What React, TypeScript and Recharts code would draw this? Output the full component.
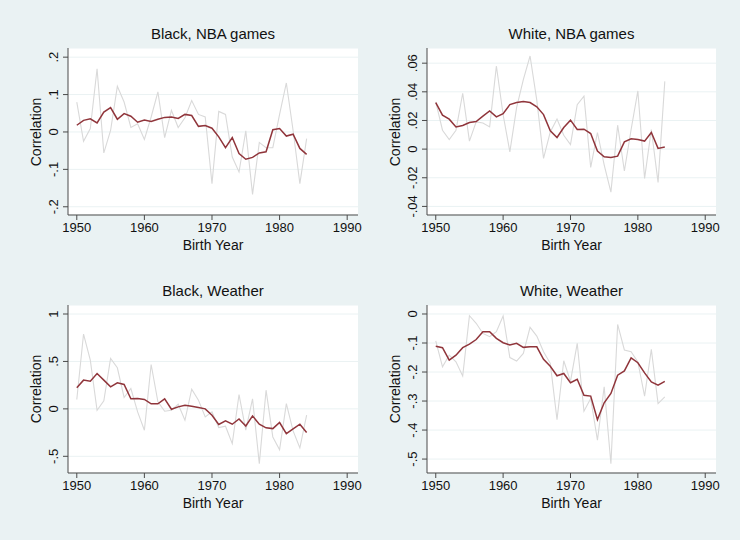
import React from 'react';
import { LineChart, Line, XAxis, YAxis, CartesianGrid } from 'recharts';

const years = [1950, 1951, 1952, 1953, 1954, 1955, 1956, 1957, 1958, 1959, 1960, 1961, 1962, 1963, 1964, 1965, 1966, 1967, 1968, 1969, 1970, 1971, 1972, 1973, 1974, 1975, 1976, 1977, 1978, 1979, 1980, 1981, 1982, 1983, 1984];

const blackNbaRaw = [0.08, -0.025, 0.009, 0.169, -0.056, 0.004, 0.122, 0.08, 0.012, 0.022, -0.02, 0.04, 0.107, -0.015, 0.058, 0.012, 0.038, 0.084, 0.047, 0.04, -0.138, 0.055, 0.047, -0.067, -0.107, 0.003, -0.167, -0.028, -0.042, -0.042, 0.047, 0.131, 0.004, -0.138, -0.018];
const blackNbaSmooth = [0.018, 0.031, 0.035, 0.024, 0.053, 0.065, 0.034, 0.049, 0.042, 0.026, 0.032, 0.028, 0.034, 0.039, 0.04, 0.036, 0.047, 0.044, 0.015, 0.017, 0.01, -0.013, -0.042, -0.015, -0.058, -0.073, -0.068, -0.056, -0.053, 0.006, 0.009, -0.011, -0.006, -0.044, -0.06];

const whiteNbaRaw = [0.033, 0.0132, 0.0067, 0.0132, 0.039, 0.0056, 0.019, 0.0183, 0.0155, 0.058, 0.024, -0.0019, 0.029, 0.0485, 0.065, 0.034, -0.0065, 0.012, 0.021, 0.0097, 0.0032, 0.031, 0.037, -0.0128, 0.0116, -0.011, -0.03, 0.0167, -0.0153, 0.0137, 0.0406, -0.0204, 0.0137, -0.0232, 0.0473];
const whiteNbaSmooth = [0.0325, 0.0237, 0.0209, 0.0155, 0.0165, 0.0186, 0.0193, 0.023, 0.0267, 0.0225, 0.0248, 0.0311, 0.0325, 0.0332, 0.0325, 0.0295, 0.0241, 0.0128, 0.0081, 0.0151, 0.0202, 0.0137, 0.0139, 0.0109, -0.0014, -0.0053, -0.0058, -0.0049, 0.0051, 0.0072, 0.0067, 0.0056, 0.0116, 0.0005, 0.0014];

const blackWeatherRaw = [0.099, 0.789, 0.514, -0.014, 0.085, 0.532, 0.433, 0.12, 0.215, -0.032, -0.225, 0.468, 0.074, -0.025, -0.014, 0.049, -0.12, 0.208, 0.092, -0.085, -0.032, -0.197, -0.183, -0.366, 0.151, -0.225, 0.106, -0.577, 0.197, -0.296, -0.43, 0.056, -0.232, -0.412, -0.067];
const blackWeatherSmooth = [0.222, 0.303, 0.292, 0.373, 0.303, 0.232, 0.275, 0.257, 0.106, 0.109, 0.099, 0.053, 0.053, 0.106, -0.004, 0.021, 0.039, 0.028, 0.014, 0.0, -0.067, -0.165, -0.127, -0.162, -0.106, -0.18, -0.074, -0.162, -0.2, -0.208, -0.144, -0.261, -0.211, -0.162, -0.25];

const whiteWeatherRaw = [-0.093, -0.182, -0.142, -0.165, -0.214, -0.006, -0.032, -0.067, -0.078, -0.061, -0.007, -0.15, -0.162, -0.136, -0.046, -0.076, -0.13, -0.17, -0.364, -0.161, -0.232, -0.101, -0.335, -0.291, -0.435, -0.251, -0.516, -0.036, -0.124, -0.13, -0.165, -0.283, -0.122, -0.309, -0.286];
const whiteWeatherSmooth = [-0.111, -0.116, -0.159, -0.142, -0.116, -0.104, -0.088, -0.061, -0.061, -0.084, -0.099, -0.107, -0.101, -0.115, -0.113, -0.113, -0.156, -0.18, -0.213, -0.205, -0.237, -0.225, -0.28, -0.283, -0.364, -0.306, -0.274, -0.211, -0.196, -0.151, -0.168, -0.203, -0.234, -0.245, -0.232];

const xTicks = [1950, 1960, 1970, 1980, 1990];
const blackNbaTicks = [-0.2, -0.1, 0, 0.1, 0.2];
const whiteNbaTicks = [-0.04, -0.02, 0, 0.02, 0.04, 0.06];
const blackWeatherTicks = [-0.5, 0, 0.5, 1];
const whiteWeatherTicks = [-0.5, -0.4, -0.3, -0.2, -0.1, 0];

const FONT = '"Liberation Sans", Arial, Helvetica, sans-serif';
const BG = '#EAF2F3';
const AXIS = '#4a4a4a';
const GRAY = '#D9D9D9';
const RED = '#90353B';

const fmt = (v: number) => {
  if (v === 0) return '0';
  const s = String(Math.round(v * 1000) / 1000);
  return s.replace(/^0\./, '.').replace(/^-0\./, '-.');
};

const YTick = (props: any) => {
  const { x, y, payload } = props;
  return (
    <text
      x={x}
      y={y}
      transform={`rotate(-90, ${x}, ${y})`}
      textAnchor="middle"
      dy="0.35em"
      fontSize={13}
      fontFamily={FONT}
      fill="#111"
    >
      {fmt(payload.value)}
    </text>
  );
};

type PanelProps = {
  title: string;
  raw: number[];
  smooth: number[];
  yDomain: [number, number];
  yTicks: number[];
  left: number;
  top: number;
  plotW: number;
  plotH: number;
};

const ML = 68;
const MT = 48;
const MR = 14;
const XH = 50;

function Panel({ title, raw, smooth, yDomain, yTicks, left, top, plotW, plotH }: PanelProps) {
  const data = years.map((yr, i) => ({ year: yr, raw: raw[i], smooth: smooth[i] }));
  return (
    <>
      <div
        style={{
          position: 'absolute',
          left: left,
          top: top - 22,
          width: plotW,
          textAlign: 'center',
          fontSize: 15,
          lineHeight: '15px',
          fontFamily: FONT,
          color: '#111',
          whiteSpace: 'nowrap',
        }}
      >
        {title}
      </div>
      <div style={{ position: 'absolute', left: left - ML, top: top - MT }}>
        <LineChart
          width={ML + plotW + MR}
          height={MT + plotH + XH}
          data={data}
          margin={{ top: MT, right: MR, bottom: 0, left: 0 }}
        >
          <CartesianGrid vertical={false} fill="#ffffff" stroke={BG} strokeWidth={1} />
          <XAxis
            dataKey="year"
            type="number"
            domain={[1948.7, 1991.6]}
            ticks={xTicks}
            allowDataOverflow
            height={XH}
            tickSize={5}
            tickMargin={3}
            axisLine={{ stroke: AXIS }}
            tickLine={{ stroke: AXIS }}
            tick={{ fontSize: 13, fill: '#111', fontFamily: FONT }}
          />
          <YAxis
            type="number"
            domain={yDomain}
            ticks={yTicks}
            allowDataOverflow
            width={ML}
            tickSize={5}
            tickMargin={10}
            axisLine={{ stroke: AXIS }}
            tickLine={{ stroke: AXIS }}
            tick={<YTick />}
          />
          <Line
            dataKey="raw"
            type="linear"
            stroke={GRAY}
            strokeWidth={1.1}
            dot={false}
            activeDot={false}
            isAnimationActive={false}
          />
          <Line
            dataKey="smooth"
            type="linear"
            stroke={RED}
            strokeWidth={1.5}
            dot={false}
            activeDot={false}
            isAnimationActive={false}
          />
        </LineChart>
      </div>
      <div
        style={{
          position: 'absolute',
          left: left,
          top: top + plotH + 23,
          width: plotW,
          textAlign: 'center',
          fontSize: 14,
          lineHeight: '14px',
          fontFamily: FONT,
          color: '#111',
          whiteSpace: 'nowrap',
        }}
      >
        Birth Year
      </div>
      <div
        style={{
          position: 'absolute',
          left: left - 32 - 50,
          top: top + plotH / 2 - 8,
          width: 100,
          height: 16,
          textAlign: 'center',
          fontSize: 14,
          lineHeight: '16px',
          fontFamily: FONT,
          color: '#111',
          whiteSpace: 'nowrap',
          transform: 'rotate(-90deg)',
        }}
      >
        Correlation
      </div>
    </>
  );
}

export default function App() {
  return (
    <div
      style={{
        position: 'absolute',
        left: 0,
        top: 0,
        width: 740,
        height: 540,
        background: BG,
        overflow: 'hidden',
      }}
    >
      <Panel
        title="Black, NBA games"
        raw={blackNbaRaw}
        smooth={blackNbaSmooth}
        yDomain={[-0.222, 0.2245]}
        yTicks={blackNbaTicks}
        left={68}
        top={48}
        plotW={290}
        plotH={167}
      />
      <Panel
        title="White, NBA games"
        raw={whiteNbaRaw}
        smooth={whiteNbaSmooth}
        yDomain={[-0.046, 0.0706]}
        yTicks={whiteNbaTicks}
        left={427}
        top={48}
        plotW={289}
        plotH={167}
      />
      <Panel
        title="Black, Weather"
        raw={blackWeatherRaw}
        smooth={blackWeatherSmooth}
        yDomain={[-0.676, 1.095]}
        yTicks={blackWeatherTicks}
        left={68}
        top={305}
        plotW={290}
        plotH={168}
      />
      <Panel
        title="White, Weather"
        raw={whiteWeatherRaw}
        smooth={whiteWeatherSmooth}
        yDomain={[-0.548, 0.031]}
        yTicks={whiteWeatherTicks}
        left={427}
        top={305}
        plotW={289}
        plotH={168}
      />
    </div>
  );
}
